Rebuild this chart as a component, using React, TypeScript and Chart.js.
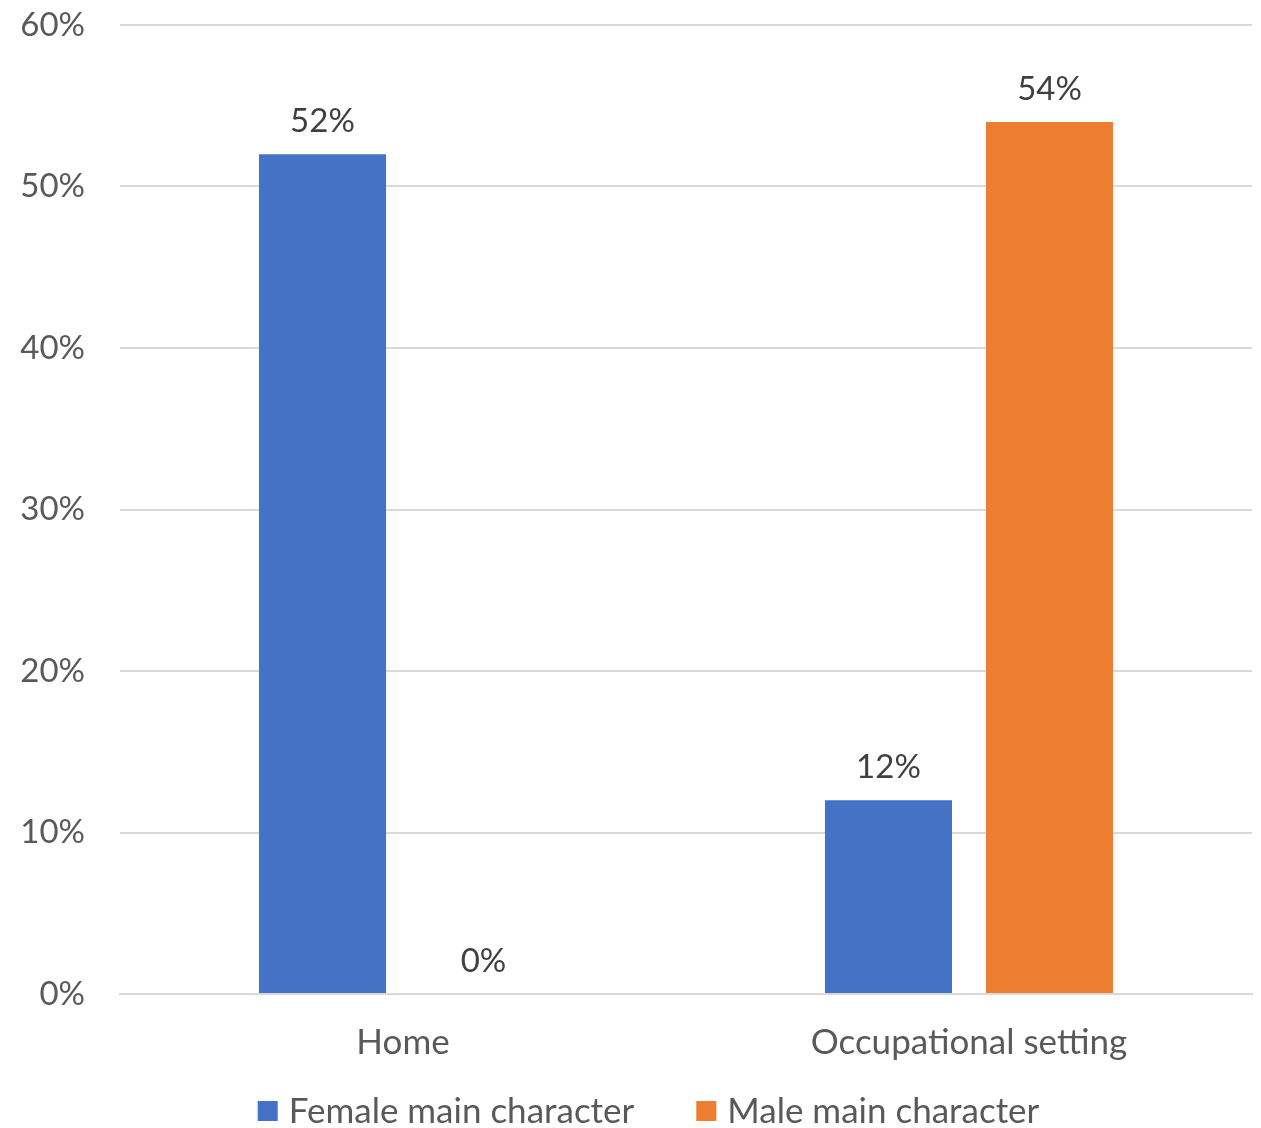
import React, { useEffect, useRef } from "react";
import { Chart, registerables } from "chart.js";

Chart.register(...registerables);

const categories = ["Home", "Occupational setting"];
const femaleValues = [52, 12];
const maleValues = [0, 54];
const seriesNames = ["Female main character", "Male main character"];
const seriesColors = ["#4472C4", "#ED7D31"];
const yTicks = [0, 10, 20, 30, 40, 50, 60];

const FONT = "Lato, 'Noto Sans', sans-serif";

const dataLabelPlugin = {
  id: "dataLabels",
  afterDatasetsDraw(chart: any) {
    const ctx = chart.ctx;
    ctx.save();
    ctx.font = `33px ${FONT}`;
    ctx.fillStyle = "#404040";
    ctx.textAlign = "center";
    ctx.textBaseline = "middle";
    chart.data.datasets.forEach((ds: any, di: number) => {
      const meta = chart.getDatasetMeta(di);
      meta.data.forEach((el: any, i: number) => {
        const v = ds.data[i];
        ctx.fillText(`${v}%`, el.x, el.y - 33);
      });
    });
    ctx.restore();
  },
};

const customLegendPlugin = {
  id: "customLegend",
  afterDraw(chart: any) {
    const ctx = chart.ctx;
    ctx.save();
    ctx.font = `35px ${FONT}`;
    ctx.textBaseline = "middle";
    ctx.textAlign = "left";
    const box = 20;
    const gap = 11;
    const spacing = 62;
    const items = chart.data.datasets.map((ds: any) => ({
      label: ds.label,
      color: ds.backgroundColor,
      w: box + gap + ctx.measureText(ds.label).width,
    }));
    const total =
      items.reduce((a: number, it: any) => a + it.w, 0) + spacing * (items.length - 1);
    let x = 648.5 - total / 2;
    const y = 1111;
    items.forEach((it: any) => {
      ctx.fillStyle = it.color;
      ctx.fillRect(x, y - box / 2, box, box);
      ctx.fillStyle = "#595959";
      ctx.fillText(it.label, x + box + gap, y + 1);
      x += it.w + spacing;
    });
    ctx.restore();
  },
};

export default function App() {
  const ref = useRef<HTMLCanvasElement>(null);
  useEffect(() => {
    document.body.style.margin = "0";
    const chart = new Chart(ref.current!, {
      type: "bar",
      data: {
        labels: categories,
        datasets: [
          {
            label: seriesNames[0],
            data: femaleValues,
            backgroundColor: seriesColors[0],
            categoryPercentage: 0.569,
            barPercentage: 0.789,
          },
          {
            label: seriesNames[1],
            data: maleValues,
            backgroundColor: seriesColors[1],
            categoryPercentage: 0.569,
            barPercentage: 0.789,
          },
        ],
      },
      options: {
        animation: false,
        responsive: true,
        maintainAspectRatio: false,
        layout: { padding: { top: 25, right: 9, left: 0, bottom: 54 } },
        plugins: {
          tooltip: { enabled: false },
          legend: { display: false },
        },
        scales: {
          x: {
            grid: { display: false },
            border: { display: true, color: "#D9D9D9", width: 2 },
            ticks: {
              color: "#595959",
              font: { family: FONT, size: 35 },
              padding: 20,
            },
            afterFit: (s: any) => {
              s.height = 80;
            },
          },
          y: {
            min: 0,
            max: 60,
            afterBuildTicks: (s: any) => {
              s.ticks = yTicks.map((v) => ({ value: v }));
            },
            grid: { color: "#D9D9D9", lineWidth: 2, drawTicks: false },
            border: { display: false },
            ticks: {
              color: "#595959",
              font: { family: FONT, size: 33 },
              padding: 35,
              callback: (v: any) => `${v}%`,
            },
            afterFit: (s: any) => {
              s.width = 120;
              s.paddingTop = 0;
              s.paddingBottom = 0;
            },
          },
        },
      },
      plugins: [dataLabelPlugin, customLegendPlugin],
    });
    return () => chart.destroy();
  }, []);
  return (
    <div style={{ position: "relative", width: 1261, height: 1128 }}>
      <canvas ref={ref} />
    </div>
  );
}
